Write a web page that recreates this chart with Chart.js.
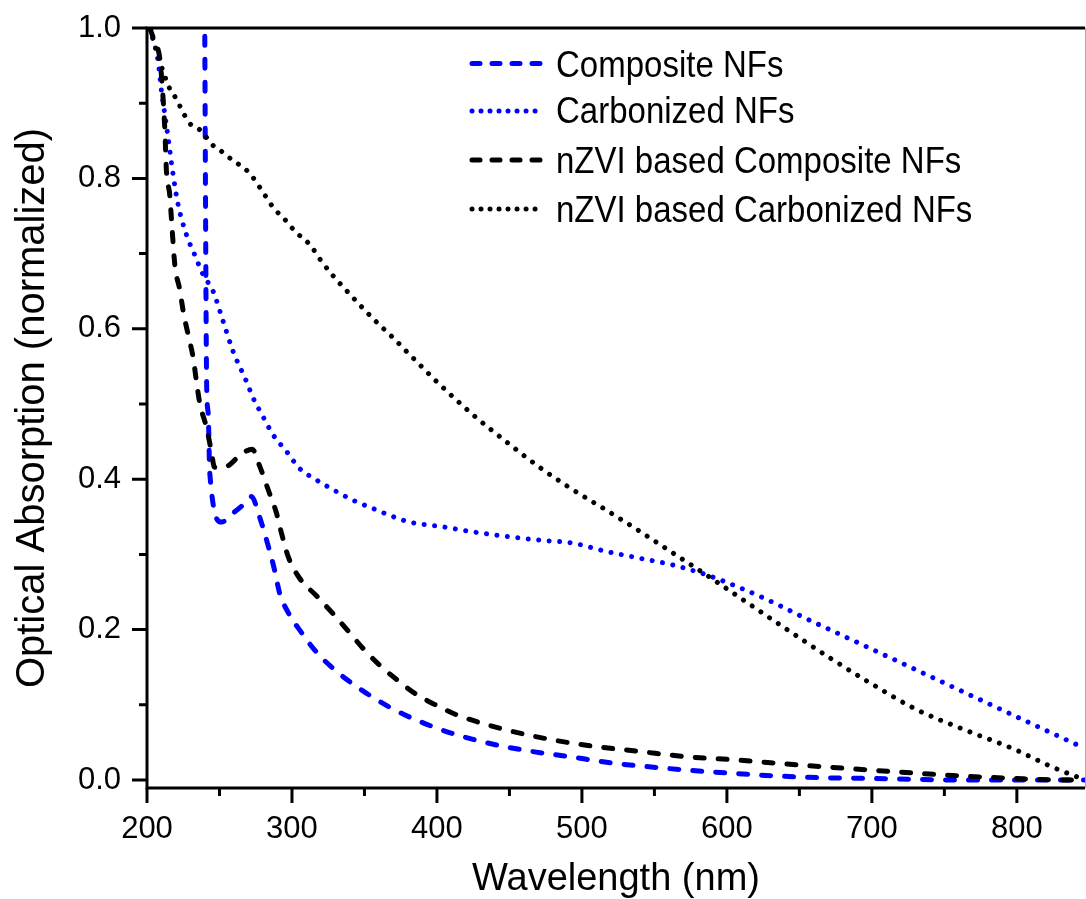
<!DOCTYPE html>
<html>
<head>
<meta charset="utf-8">
<script src="https://cdn.jsdelivr.net/npm/chart.js@4"></script>
<style>
html,body{margin:0;padding:0;background:#fff;}
#wrap{width:1086px;height:899px;position:relative;}
</style>
</head>
<body>
<div id="wrap"><canvas id="c"></canvas></div>
<script>
// ---------- DATA ----------
const seriesLabels = ["Composite NFs", "Carbonized NFs", "nZVI based Composite NFs", "nZVI based Carbonized NFs"];

const compositeWl  = [239.7, 241.2, 242.2, 243.3, 251.4, 259.4, 266.3, 272, 277.6, 283.8, 288, 291.4, 297.6, 306.6, 316.9, 328.6, 339.7, 367.2, 397.1, 427, 459.2, 491.4, 523.6, 555.7, 588, 650, 700, 765, 847];
const compositeAbs = [1.05, 0.52, 0.488, 0.408, 0.343, 0.355, 0.366, 0.377, 0.35, 0.31, 0.279, 0.249, 0.222, 0.196, 0.17, 0.148, 0.131, 0.097, 0.071, 0.053, 0.04, 0.031, 0.022, 0.016, 0.011, 0.004, 0.002, 0.0, 0.0];

const carbonizedWl  = [202, 207.7, 210, 212.3, 214.6, 218, 221.5, 227.2, 233, 238.7, 245.6, 252.5, 259.4, 268.6, 273.2, 280.1, 287, 296.2, 305.4, 316.9, 328.4, 342.2, 356, 367.4, 381.2, 395, 403.1, 424.7, 447.7, 470.7, 493.7, 516.7, 539.7, 562.6, 585.6, 608.6, 631, 650, 700, 750, 800, 847];
const carbonizedAbs = [1.0, 0.955, 0.916, 0.885, 0.854, 0.805, 0.765, 0.725, 0.698, 0.672, 0.65, 0.61, 0.57, 0.53, 0.508, 0.483, 0.459, 0.437, 0.414, 0.399, 0.386, 0.372, 0.361, 0.352, 0.343, 0.339, 0.337, 0.33, 0.324, 0.319, 0.315, 0.304, 0.295, 0.286, 0.273, 0.256, 0.237, 0.219, 0.174, 0.129, 0.084, 0.042];

const nzviCompositeWl  = [202, 204.3, 208.8, 210, 212.3, 213.4, 215.7, 216.9, 219.2, 222.6, 225, 228.4, 231.9, 234.1, 236.4, 241, 244.5, 246.5, 251.4, 256, 263, 268, 272.5, 277.8, 283.6, 289.3, 292.8, 297.4, 305.4, 316.9, 328.4, 339.7, 349, 360.3, 372, 385.7, 400, 413.2, 443.1, 475.3, 507.4, 539.7, 571.9, 604, 650, 700.6, 751.2, 799.4, 834, 847];
const nzviCompositeAbs = [1.0, 0.987, 0.96, 0.936, 0.865, 0.81, 0.778, 0.745, 0.685, 0.652, 0.623, 0.592, 0.561, 0.53, 0.501, 0.469, 0.436, 0.416, 0.416, 0.418, 0.43, 0.437, 0.44, 0.417, 0.386, 0.355, 0.328, 0.297, 0.268, 0.245, 0.221, 0.196, 0.175, 0.153, 0.134, 0.114, 0.099, 0.087, 0.069, 0.055, 0.045, 0.038, 0.031, 0.027, 0.02, 0.013, 0.0066, 0.002, 0.0, 0.001];

const nzviCarbonizedWl  = [202, 208.6, 213.2, 215.5, 220.1, 225.9, 230.5, 236.2, 240.8, 244.3, 250, 259.2, 265.2, 270.7, 279.9, 286.8, 296.2, 301.9, 312.3, 320.3, 329.5, 339.9, 349.1, 359.4, 369.8, 379, 389.3, 399.7, 424.7, 447.7, 470.7, 493.7, 516.7, 539.7, 562.6, 585.6, 608.6, 638.5, 673, 700.6, 730.5, 765, 799.4, 822.4, 847];
const nzviCarbonizedAbs = [1.0, 0.957, 0.931, 0.92, 0.906, 0.884, 0.871, 0.865, 0.855, 0.846, 0.838, 0.824, 0.816, 0.807, 0.782, 0.762, 0.743, 0.73, 0.712, 0.69, 0.668, 0.646, 0.627, 0.607, 0.588, 0.57, 0.55, 0.53, 0.486, 0.45, 0.416, 0.386, 0.359, 0.331, 0.302, 0.273, 0.243, 0.204, 0.16, 0.127, 0.094, 0.066, 0.04, 0.019, 0.0];

const xTickValues  = [200, 300, 400, 500, 600, 700, 800];
const xMinorValues = [250, 350, 450, 550, 650, 750];
const yTickValues  = [0.0, 0.2, 0.4, 0.6, 0.8, 1.0];
const yMinorValues = [0.1, 0.3, 0.5, 0.7, 0.9];

// ---------- STYLE ----------
const FONT = "'Liberation Sans', Arial, sans-serif";
const BLUE = '#0000ff';
const BLACK = '#000000';
const DASH = [9, 14];
const DOT = [0.01, 10.5];

function pts(xs, ys){ return xs.map((x,i)=>({x:x, y:ys[i]})); }

const datasets = [
  {label: seriesLabels[0], data: pts(compositeWl, compositeAbs), borderColor: BLUE, borderDash: DASH, order: 3},
  {label: seriesLabels[1], data: pts(carbonizedWl, carbonizedAbs), borderColor: BLUE, borderDash: DOT, order: 2},
  {label: seriesLabels[2], data: pts(nzviCompositeWl, nzviCompositeAbs), borderColor: BLACK, borderDash: DASH, order: 1},
  {label: seriesLabels[3], data: pts(nzviCarbonizedWl, nzviCarbonizedAbs), borderColor: BLACK, borderDash: DOT, order: 0}
].map(d => Object.assign(d, {
  borderWidth: 5, borderCapStyle: 'round', borderJoinStyle: 'round',
  pointRadius: 0, fill: false, cubicInterpolationMode: 'monotone', clip: 0
}));

const framePlugin = {
  id: 'frame',
  afterDatasetsDraw(chart){
    const {ctx, chartArea: a, scales: {x, y}} = chart;
    ctx.save();
    ctx.strokeStyle = '#000';
    ctx.lineCap = 'butt';
    ctx.lineWidth = 3;
    ctx.beginPath();
    ctx.moveTo(a.left, a.top - 1.5); ctx.lineTo(a.left, a.bottom + 1.5);
    ctx.moveTo(a.left - 1.5, a.bottom); ctx.lineTo(a.right, a.bottom);
    ctx.moveTo(a.left - 1.5, a.top); ctx.lineTo(a.right, a.top);
    ctx.stroke();
    ctx.beginPath();
    xTickValues.forEach(v => { const px = x.getPixelForValue(v); ctx.moveTo(px, a.bottom); ctx.lineTo(px, a.bottom + 15); });
    xMinorValues.forEach(v => { const px = x.getPixelForValue(v); ctx.moveTo(px, a.bottom); ctx.lineTo(px, a.bottom + 8); });
    yTickValues.forEach(v => { const py = y.getPixelForValue(v); ctx.moveTo(a.left, py); ctx.lineTo(a.left - 15, py); });
    yMinorValues.forEach(v => { const py = y.getPixelForValue(v); ctx.moveTo(a.left, py); ctx.lineTo(a.left - 8, py); });
    ctx.stroke();
    ctx.lineWidth = 1;
    ctx.strokeStyle = '#aaa';
    ctx.beginPath(); ctx.moveTo(a.right + 0.5, a.top); ctx.lineTo(a.right + 0.5, a.bottom); ctx.stroke();
    ctx.restore();
  },
  afterDraw(chart){
    const {ctx} = chart;
    const rowsY = [63.5, 111, 160, 209];
    const baseY = [76.5, 123, 173, 221.5];
    ctx.save();
    chart.data.datasets.forEach((ds, i) => {
      const yy = rowsY[i];
      ctx.strokeStyle = ds.borderColor;
      ctx.lineWidth = ds.borderWidth;
      ctx.lineCap = 'round';
      ctx.setLineDash(ds.borderDash === DASH ? [8, 12] : [0.01, 9]);
      ctx.beginPath(); ctx.moveTo(472, yy); ctx.lineTo(541, yy); ctx.stroke();
      ctx.setLineDash([]);
      ctx.save();
      ctx.fillStyle = '#000';
      ctx.font = '33px ' + FONT;
      ctx.textAlign = 'left';
      ctx.textBaseline = 'alphabetic';
      ctx.translate(556, baseY[i]);
      ctx.scale(1, 1.12);
      ctx.fillText(ds.label, 0, 0);
      ctx.restore();
    });
    ctx.restore();
  }
};

function noPad(s){ s.paddingTop = 0; s.paddingBottom = 0; s.paddingLeft = 0; s.paddingRight = 0; }

new Chart(document.getElementById('c'), {
  type: 'line',
  data: {datasets: datasets},
  options: {
    responsive: true,
    maintainAspectRatio: false,
    animation: false,
    devicePixelRatio: 1,
    layout: {padding: {top: 28, right: 1, left: 0, bottom: 0}},
    plugins: {legend: {display: false}, tooltip: {enabled: false}},
    scales: {
      x: {
        type: 'linear', min: 200, max: 847,
        grid: {display: false, drawTicks: false},
        border: {display: false},
        afterBuildTicks: s => { s.ticks = xTickValues.map(v => ({value: v})); },
        afterFit: s => { s.height = 111; noPad(s); },
        ticks: {font: {family: FONT, size: 31}, color: '#000', padding: 23, maxRotation: 0, autoSkip: false,
                callback: v => String(v)},
        title: {display: true, text: 'Wavelength (nm)', color: '#000',
                font: {family: FONT, size: 38, lineHeight: 1.0}, padding: {top: 0, bottom: 0}}
      },
      y: {
        type: 'linear', min: -0.0106, max: 1.0,
        grid: {display: false, drawTicks: false},
        border: {display: false},
        afterBuildTicks: s => { s.ticks = yTickValues.map(v => ({value: v})); },
        afterFit: s => { s.width = 147; noPad(s); },
        ticks: {font: {family: FONT, size: 31}, color: '#000', padding: 26, autoSkip: false,
                callback: v => Number(v).toFixed(1)},
        title: {display: true, text: 'Optical Absorption (normalized)', color: '#000',
                font: {family: FONT, size: 40, lineHeight: 1.0}, padding: {top: 13, bottom: 0}}
      }
    }
  },
  plugins: [framePlugin]
});
</script>
</body>
</html>
